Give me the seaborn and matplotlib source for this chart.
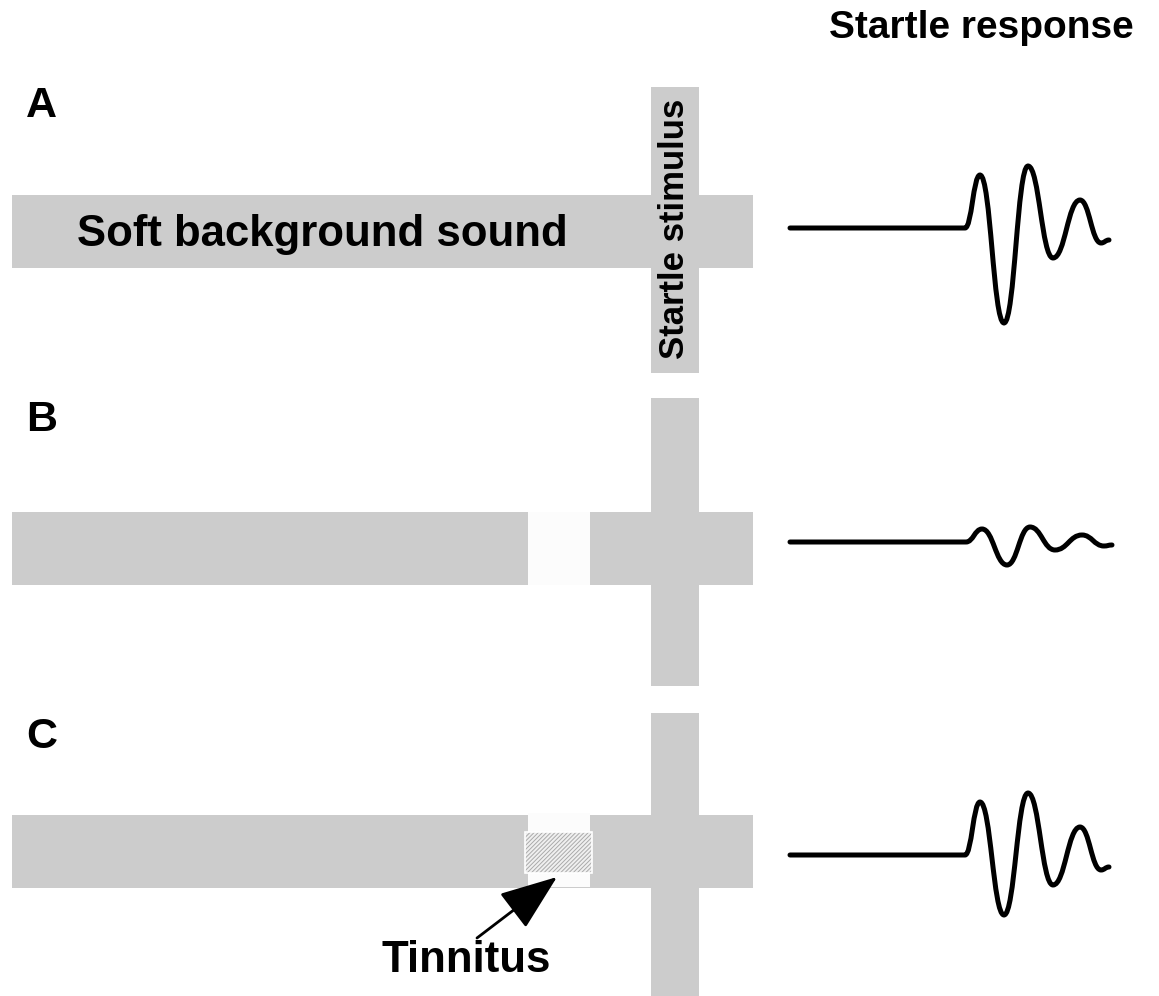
import matplotlib
matplotlib.use("Agg")
import matplotlib.pyplot as plt
import seaborn as sns
from matplotlib.patches import Rectangle, PathPatch
from matplotlib.path import Path

sns.set_theme(style="white")
plt.rcParams['font.family'] = ['Liberation Sans', 'DejaVu Sans']
plt.rcParams['hatch.linewidth'] = 0.7

# ---- data (pixel-space schematic, y down) ----
panel_labels = ["A", "B", "C"]
panel_label_y = [117, 431, 748]
# horizontal background-sound bars: (y_top, y_bottom)
bg_bar_y = [(195, 268), (512, 585), (815, 888)]
# vertical startle-stimulus bars: (y_top, y_bottom)
stim_bar_y = [(87, 373), (398, 686), (713, 996)]
bar_x = (12, 753)
stim_x = (651, 699)
gap_x = (528, 590)
# waveforms: list of (x, y) key points (flat start, onset, extrema, end)
wave_A = [(790, 228), (965, 228), (980, 175), (1004, 323), (1028, 166),
          (1053, 258), (1080, 200), (1101, 243), (1109, 240)]
wave_B = [(790, 542), (966, 542), (982, 529), (1007, 565), (1030, 527),
          (1055, 550), (1082, 535), (1104, 546), (1112, 545)]
wave_C = [(790, 855), (965, 855), (980, 802), (1004, 915), (1028, 793),
          (1053, 885), (1080, 827), (1101, 870), (1109, 867)]
waves = [wave_A, wave_B, wave_C]

W, H = 1159, 996
fig = plt.figure(figsize=(W / 100, H / 100), dpi=100)
ax = fig.add_axes([0, 0, 1, 1])
ax.set_xlim(0, W)
ax.set_ylim(H, 0)
ax.axis("off")

grey = "#cccccc"

for i in range(3):
    y0, y1 = bg_bar_y[i]
    ax.add_patch(Rectangle((bar_x[0], y0), bar_x[1] - bar_x[0], y1 - y0,
                           facecolor=grey, edgecolor="none", zorder=1))
    s0, s1 = stim_bar_y[i]
    ax.add_patch(Rectangle((stim_x[0], s0), stim_x[1] - stim_x[0], s1 - s0,
                           facecolor=grey, edgecolor="none", zorder=1))

# gap in B
y0, y1 = bg_bar_y[1]
ax.add_patch(Rectangle((gap_x[0], y0), gap_x[1] - gap_x[0], y1 - y0,
                       facecolor="#fcfcfc", edgecolor="none", zorder=2))
# gap in C with tinnitus hatch
ax.add_patch(Rectangle((gap_x[0], 813), gap_x[1] - gap_x[0], 74,
                       facecolor="#fcfcfc", edgecolor="none", zorder=2))
ax.add_patch(Rectangle((525, 832), 67, 41, facecolor="#f0f0f0",
                       edgecolor="#aaaaaa", hatch="////////", lw=0, zorder=3))
ax.add_patch(Rectangle((525, 832), 67, 41, facecolor="none",
                       edgecolor="white", lw=1.2, zorder=4))

# waveforms as smooth curves through key points
for pts in waves:
    verts = [pts[0], pts[1]]
    codes = [Path.MOVETO, Path.LINETO]
    for p0, p1 in zip(pts[1:-1], pts[2:]):
        dx = p1[0] - p0[0]
        verts += [(p0[0] + 0.45 * dx, p0[1]), (p1[0] - 0.45 * dx, p1[1]), p1]
        codes += [Path.CURVE4] * 3
    ax.add_patch(PathPatch(Path(verts, codes), facecolor="none",
                           edgecolor="black", lw=3.6, capstyle="round",
                           joinstyle="round", zorder=5))

bold = dict(fontweight="bold", color="black")
for lab, y in zip(panel_labels, panel_label_y):
    ax.text(26, y, lab, fontsize=31, va="baseline", ha="left", **bold)

ax.text(77, 246, "Soft background sound", fontsize=31.5, va="baseline",
        ha="left", zorder=6, **bold)
ax.text(981, 38, "Startle response", fontsize=28, va="baseline",
        ha="center", **bold)
ax.text(382, 972, "Tinnitus", fontsize=31.5, va="baseline", ha="left", **bold)
ax.text(684, 229, "Startle stimulus", fontsize=25, rotation=90,
        rotation_mode="anchor", va="baseline", ha="center", zorder=6, **bold)

ax.annotate("", xy=(557, 877), xytext=(477, 938),
            arrowprops=dict(arrowstyle="-|>,head_length=1.0,head_width=0.38",
                            mutation_scale=36, lw=2, color="black",
                            shrinkA=0, shrinkB=0), zorder=7)

fig.savefig("out.png", dpi=100, facecolor="white")
